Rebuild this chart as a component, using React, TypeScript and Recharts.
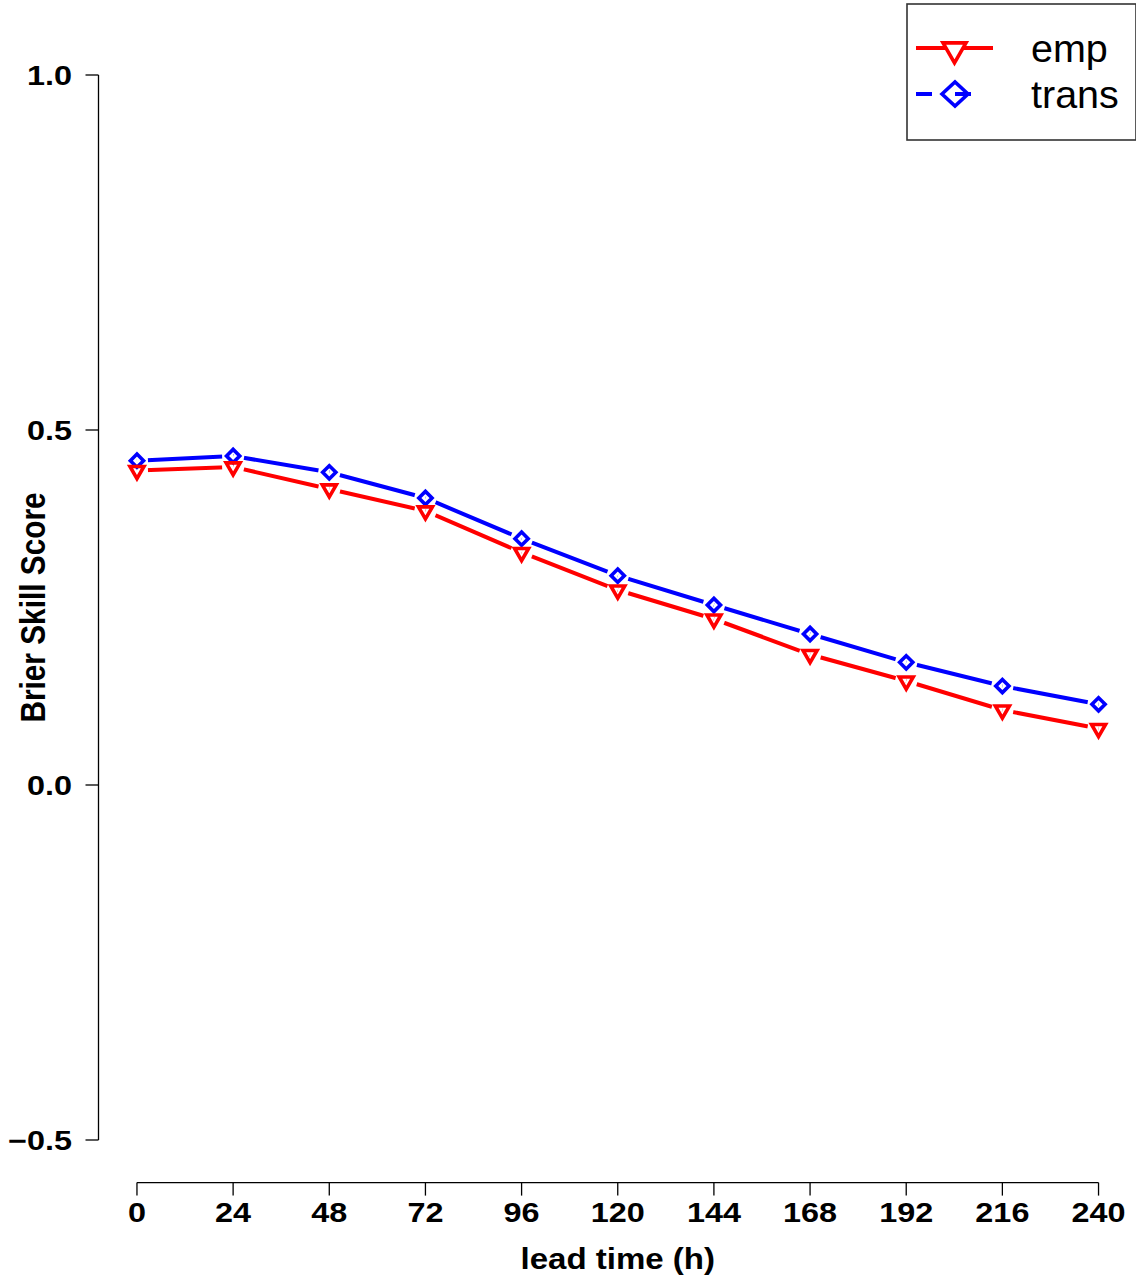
import React from 'react';
import { LineChart, Line, XAxis, YAxis, ReferenceLine, Label, Legend } from 'recharts';

// ---- data ----
const LEAD_TIMES = [0, 24, 48, 72, 96, 120, 144, 168, 192, 216, 240];
const EMP = [0.443, 0.448, 0.417, 0.386, 0.3275, 0.2746, 0.2338, 0.1838, 0.1465, 0.1056, 0.0796];
const TRANS = [0.4568, 0.4634, 0.4404, 0.4042, 0.3469, 0.2948, 0.2535, 0.2127, 0.1728, 0.1394, 0.1137];
const X_TICKS = [0, 24, 48, 72, 96, 120, 144, 168, 192, 216, 240];
const Y_TICKS = [-0.5, 0, 0.5, 1.0];
const SERIES_NAMES = ['emp', 'trans'];
const X_TITLE = 'lead time (h)';
const Y_TITLE = 'Brier Skill Score';

// ---- layout ----
const W = 1137;
const H = 1280;
const PLOT_LEFT = 98.5;
const PLOT_TOP = 32.4;
const X_AXIS_H = 97.4;
const X_DOMAIN: [number, number] = [-9.6, 249.6];
const Y_DOMAIN: [number, number] = [-0.56, 1.06];
const KX = (W - PLOT_LEFT) / (X_DOMAIN[1] - X_DOMAIN[0]);
const KY = (H - PLOT_TOP - X_AXIS_H) / (Y_DOMAIN[1] - Y_DOMAIN[0]);
const FONT = '"Liberation Sans", Arial, Helvetica, sans-serif';
const STRETCH = 1.2;
const RED = '#ff0000';
const BLUE = '#0000ff';
const GAP = 11;

const rows = LEAD_TIMES.map((t, i) => ({ lead: t, emp: EMP[i], trans: TRANS[i] }));

const triPath = (cx: number, cy: number, xc: number) => {
  const yc = xc * 0.5774;
  const r = xc * 1.1547;
  return `M${cx - xc},${cy - yc} L${cx + xc},${cy - yc} L${cx},${cy + r} Z`;
};
const diaPath = (cx: number, cy: number, hx: number, hy: number) =>
  `M${cx - hx},${cy} L${cx},${cy - hy} L${cx + hx},${cy} L${cx},${cy + hy} Z`;

const makeMask = (vals: number[]) => (p: any) => {
  const { cx, cy, index } = p;
  const segs: React.ReactNode[] = [];
  [index - 1, index + 1].forEach((j) => {
    if (j < 0 || j >= vals.length) return;
    const dx = (LEAD_TIMES[j] - LEAD_TIMES[index]) * KX;
    const dy = -(vals[j] - vals[index]) * KY;
    const len = Math.sqrt(dx * dx + dy * dy);
    segs.push(
      <line key={j} x1={cx} y1={cy} x2={cx + (dx / len) * GAP} y2={cy + (dy / len) * GAP}
        stroke="#ffffff" strokeWidth={7} strokeLinecap="butt" />
    );
  });
  return <g key={`m-${index}`}>{segs}</g>;
};

const triDot = (p: any) => (
  <path key={`t-${p.index}`} d={triPath(p.cx, p.cy, 7)} fill="none" stroke={RED} strokeWidth={3.6} strokeLinejoin="miter" />
);
const diaDot = (p: any) => (
  <path key={`d-${p.index}`} d={diaPath(p.cx, p.cy, 6.6, 6.6)} fill="none" stroke={BLUE} strokeWidth={3.6} strokeLinejoin="miter" />
);

const fmtY = (v: number) => (v < 0 ? '\u2212' + Math.abs(v).toFixed(1) : v.toFixed(1));

const XTick = (p: any) => (
  <g transform={`translate(${p.x},${p.y})`}>
    <text transform={`scale(${STRETCH},1)`} textAnchor="middle" dy="0.716em" fontSize={27}
      fontWeight="bold" fontFamily={FONT} fill="#000">{p.payload.value}</text>
  </g>
);
const YTick = (p: any) => (
  <g transform={`translate(${p.x},${p.y})`}>
    <text transform={`scale(${STRETCH},1)`} textAnchor="end" dy="0.36em" fontSize={27}
      fontWeight="bold" fontFamily={FONT} fill="#000">{fmtY(p.payload.value)}</text>
  </g>
);

const XTitle = (p: any) => {
  const vb = p.viewBox || { x: PLOT_LEFT, y: H - X_AXIS_H, width: W - PLOT_LEFT, height: X_AXIS_H };
  return (
    <g transform={`translate(${vb.x + vb.width / 2},${vb.y + 86})`}>
      <text transform={`scale(1.14,1)`} textAnchor="middle" fontSize={29} fontWeight="bold"
        fontFamily={FONT} fill="#000">{X_TITLE}</text>
    </g>
  );
};
const YTitle = (p: any) => {
  const vb = p.viewBox || { x: 0, y: PLOT_TOP, width: PLOT_LEFT, height: H - PLOT_TOP - X_AXIS_H };
  return (
    <g transform={`translate(${vb.x + 45},${vb.y + vb.height / 2}) rotate(-90) scale(1,${STRETCH})`}>
      <text textAnchor="middle" fontSize={29.8} fontWeight="bold" fontFamily={FONT} fill="#000">{Y_TITLE}</text>
    </g>
  );
};

const LegendBox = () => (
  <svg width={231} height={139} style={{ display: 'block' }}>
    <rect x={1} y={1} width={229} height={136} fill="#fff" stroke="#333" strokeWidth={1.6} />
    <line x1={10} y1={45} x2={87} y2={45} stroke={RED} strokeWidth={4} />
    <path d={triPath(48.5, 46.5, 11.5)} fill="#fff" stroke={RED} strokeWidth={3.6} />
    <line x1={10} y1={91} x2={87} y2={91} stroke={BLUE} strokeWidth={4} strokeDasharray="16 23" />
    <path d={diaPath(49, 91, 13, 12)} fill="none" stroke={BLUE} strokeWidth={3.6} />
    <text x={125} y={59} fontSize={39.5} fontFamily={FONT} fill="#000">{SERIES_NAMES[0]}</text>
    <text x={125} y={105} fontSize={39.5} fontFamily={FONT} fill="#000">{SERIES_NAMES[1]}</text>
  </svg>
);

export default function App() {
  return (
    <div style={{ position: 'absolute', left: 0, top: 0, background: '#fff' }}>
      <LineChart width={W} height={H} data={rows} margin={{ top: PLOT_TOP, right: 0, bottom: 0, left: 0 }}>
        <XAxis dataKey="lead" type="number" domain={X_DOMAIN} ticks={X_TICKS} allowDataOverflow
          axisLine={false} tickLine={{ stroke: '#000', strokeWidth: 1.3 }} tickSize={13} tickMargin={7.4}
          height={X_AXIS_H} tick={<XTick />} interval={0}>
          <Label content={<XTitle />} />
        </XAxis>
        <YAxis type="number" domain={Y_DOMAIN} ticks={Y_TICKS} allowDataOverflow
          axisLine={false} tickLine={{ stroke: '#000', strokeWidth: 1.3 }} tickSize={13} tickMargin={13.5}
          width={PLOT_LEFT} tick={<YTick />} interval={0}>
          <Label content={<YTitle />} />
        </YAxis>
        <ReferenceLine segment={[{ x: X_DOMAIN[0], y: Y_TICKS[0] }, { x: X_DOMAIN[0], y: Y_TICKS[Y_TICKS.length - 1] }]}
          stroke="#000" strokeWidth={1.3} ifOverflow="visible" />
        <ReferenceLine segment={[{ x: X_TICKS[0], y: Y_DOMAIN[0] }, { x: X_TICKS[X_TICKS.length - 1], y: Y_DOMAIN[0] }]}
          stroke="#000" strokeWidth={1.3} ifOverflow="visible" />
        <Line dataKey="trans" name="trans-line" stroke={BLUE} strokeWidth={4} dot={false} activeDot={false}
          isAnimationActive={false} legendType="none" type="linear" />
        <Line dataKey="emp" name="emp-line" stroke={RED} strokeWidth={4} dot={false} activeDot={false}
          isAnimationActive={false} legendType="none" type="linear" />
        <Line dataKey="trans" name="trans-gap" stroke="none" dot={makeMask(TRANS)} activeDot={false}
          isAnimationActive={false} legendType="none" />
        <Line dataKey="emp" name="emp-gap" stroke="none" dot={makeMask(EMP)} activeDot={false}
          isAnimationActive={false} legendType="none" />
        <Line dataKey="trans" name={SERIES_NAMES[1]} stroke="none" dot={diaDot} activeDot={false}
          isAnimationActive={false} legendType="none" />
        <Line dataKey="emp" name={SERIES_NAMES[0]} stroke="none" dot={triDot} activeDot={false}
          isAnimationActive={false} legendType="none" />
        <Legend layout="vertical" align="center" verticalAlign="middle" content={<LegendBox />}
          wrapperStyle={{ left: 905.5, top: 3, width: 231, height: 139, margin: 0, padding: 0 }} />
      </LineChart>
    </div>
  );
}
